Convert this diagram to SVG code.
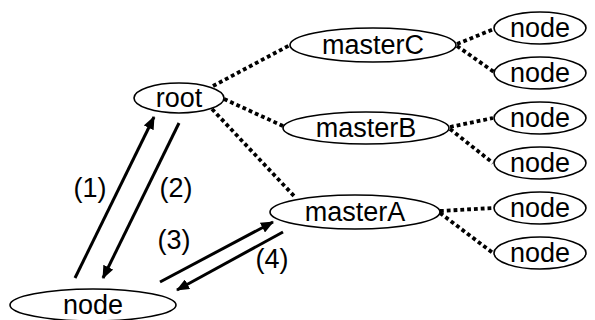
<svg xmlns="http://www.w3.org/2000/svg" width="595" height="320" viewBox="0 0 595 320">
  <style>
    .shape { fill: #fff; stroke: #000; stroke-width: 1.6; }
    .lbl { font-family: "Liberation Sans", Arial, sans-serif; font-size: 27px; fill: #000; text-anchor: middle; }
    .dot { stroke: #000; stroke-width: 3.8; stroke-dasharray: 3.8 3; fill: none; }
    .arr { stroke: #000; stroke-width: 3; fill: none; marker-end: url(#head); }
  </style>
  <defs>
    <marker id="head" viewBox="0 0 13 11" refX="12" refY="5.5" markerWidth="13" markerHeight="11" markerUnits="userSpaceOnUse" orient="auto">
      <path d="M0,0 L13,5.5 L0,11 Z" fill="#000"/>
    </marker>
  </defs>
  <rect width="595" height="320" fill="#fff"/>

  <!-- connectors -->
  <g id="connectors">
    <line class="dot" x1="213" y1="86" x2="290" y2="45"/>
    <line class="dot" x1="224" y1="99" x2="283" y2="126"/>
    <line class="dot" x1="212" y1="109" x2="295" y2="197"/>
    <line class="dot" x1="457" y1="44" x2="494" y2="29"/>
    <line class="dot" x1="457" y1="46" x2="494" y2="72"/>
    <line class="dot" x1="450" y1="127" x2="493" y2="118"/>
    <line class="dot" x1="450" y1="129" x2="493" y2="163"/>
    <line class="dot" x1="440" y1="211" x2="493" y2="208"/>
    <line class="dot" x1="440" y1="213" x2="493" y2="253"/>
    <line class="arr" x1="75" y1="278" x2="154" y2="117"/>
    <line class="arr" x1="179" y1="123" x2="103" y2="278"/>
    <line class="arr" x1="160" y1="282" x2="273" y2="222"/>
    <line class="arr" x1="283" y1="232" x2="177" y2="290"/>
    <text class="lbl" x="90" y="197">(1)</text>
    <text class="lbl" x="176" y="197">(2)</text>
    <text class="lbl" x="174" y="249">(3)</text>
    <text class="lbl" x="272" y="268">(4)</text>
  </g>

  <g id="root">
    <ellipse class="shape" cx="179" cy="98" rx="45" ry="15"/>
    <text class="lbl" x="179" y="107">root</text>
  </g>
  <g id="masterC">
    <ellipse class="shape" cx="373" cy="45" rx="83" ry="17"/>
    <text class="lbl" x="373" y="54">masterC</text>
  </g>
  <g id="masterB">
    <ellipse class="shape" cx="366" cy="128" rx="83" ry="16"/>
    <text class="lbl" x="366" y="137">masterB</text>
  </g>
  <g id="masterA">
    <ellipse class="shape" cx="355" cy="212" rx="85" ry="17"/>
    <text class="lbl" x="355" y="221">masterA</text>
  </g>
  <g id="client">
    <ellipse class="shape" cx="93" cy="305" rx="83" ry="16"/>
    <text class="lbl" x="93" y="314">node</text>
  </g>
  <g id="nodeC1">
    <ellipse class="shape" cx="540" cy="28" rx="46" ry="16"/>
    <text class="lbl" x="540" y="37">node</text>
  </g>
  <g id="nodeC2">
    <ellipse class="shape" cx="540" cy="73" rx="46" ry="16"/>
    <text class="lbl" x="540" y="82">node</text>
  </g>
  <g id="nodeB1">
    <ellipse class="shape" cx="540" cy="118" rx="46" ry="16"/>
    <text class="lbl" x="540" y="127">node</text>
  </g>
  <g id="nodeB2">
    <ellipse class="shape" cx="540" cy="163" rx="46" ry="16"/>
    <text class="lbl" x="540" y="172">node</text>
  </g>
  <g id="nodeA1">
    <ellipse class="shape" cx="540" cy="208" rx="46" ry="16"/>
    <text class="lbl" x="540" y="217">node</text>
  </g>
  <g id="nodeA2">
    <ellipse class="shape" cx="540" cy="253" rx="46" ry="16"/>
    <text class="lbl" x="540" y="262">node</text>
  </g>
</svg>
